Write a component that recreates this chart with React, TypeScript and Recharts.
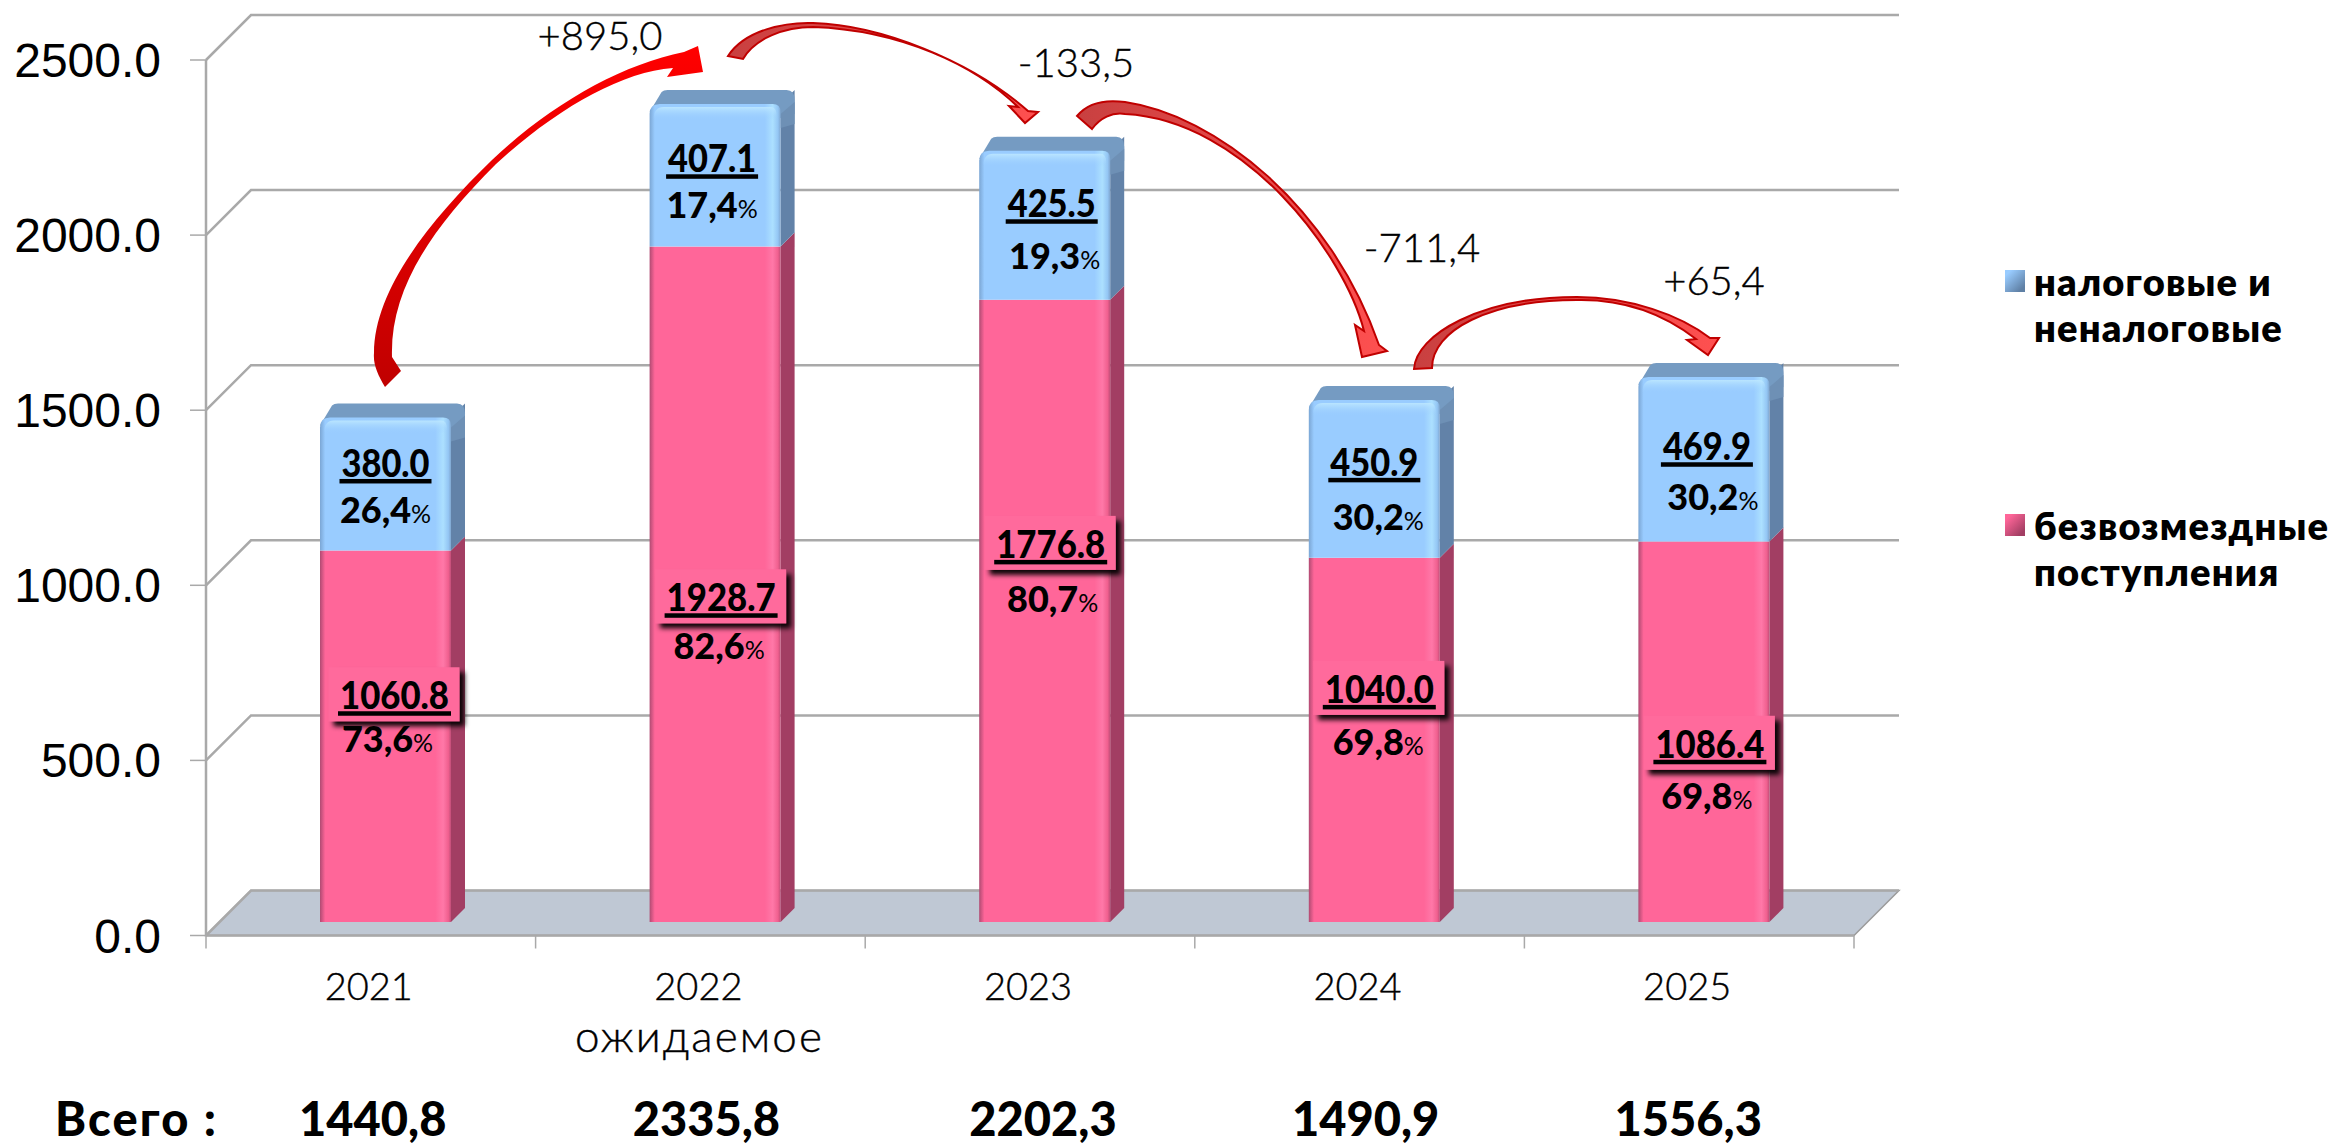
import { Bar, CartesianGrid, ComposedChart, LabelList, Legend, Line, XAxis, YAxis } from 'recharts';

const years = ['2021', '2022', '2023', '2024', '2025'];
const yearNotes = ['', 'ожидаемое', '', '', ''];
const grants = [1060.8, 1928.7, 1776.8, 1040.0, 1086.4];
const taxes = [380.0, 407.1, 425.5, 450.9, 469.9];
const grantShares = ['73,6', '82,6', '80,7', '69,8', '69,8'];
const taxShares = ['26,4', '17,4', '19,3', '30,2', '30,2'];
const totals = [1440.8, 2335.8, 2202.3, 1490.9, 1556.3];
const totalLabels = ['1440,8', '2335,8', '2202,3', '1490,9', '1556,3'];
const yTicks = [0, 500, 1000, 1500, 2000, 2500];
const GRANTS_NAME = 'безвозмездные\nпоступления';
const TAXES_NAME = 'налоговые и\nненалоговые';
const TOTAL_LABEL = 'Всего :';

const changes = [
  { text: '+895,0', x: 600, y: 50 },
  { text: '-133,5', x: 1076, y: 77 },
  { text: '-711,4', x: 1422, y: 262 },
  { text: '+65,4', x: 1714, y: 295 },
];

const tableData = years.map((year, i) => ({
  year,
  grants: grants[i],
  taxes: taxes[i],
  total: totals[i],
}));

// layout of the picture, in px
const WIDTH = 2328;
const HEIGHT = 1147;
const PLOT = { left: 206, right: 1854, top: 60, bottom: 935.5 };
const WALL = 45;
const BAR_SHIFT = 15;
const BAR_DEPTH = 14;
const BAR_LIFT = 13.5;
const PX_PER_UNIT = (PLOT.bottom - PLOT.top) / 2500;
const liftUnits = BAR_LIFT / PX_PER_UNIT;

const THIN = '"Lato", "Open Sans", sans-serif';
const BOLD = '"Lato", "Open Sans", sans-serif';

// [value dx, value dy, share dx, share dy] from the middle of each segment
const taxLabelPos = [
  [0, -20, 0, 26],
  [-3, -16, -3, 30],
  [7, -21, 10, 31],
  [0, -16, 4, 38],
  [3, -12, 9, 38],
];
const grantLabelPos = [
  [9, -40, 2, 3],
  [6, 14, 4, 62],
  [6, -66, 8, -12],
  [5, -50, 4, 2],
  [6, 13, 3, 64],
];
const totalDx = [2, 6, 13, 6, -1];

// change arrows between the bars, hand placed like the shapes in the original slide
const arrows = [
  {
    fill: 'url(#arrowStrong)',
    stroke: 'none',
    d: 'M385 387 C378 375 373 365 374 353 C374 290 430 220 492 160 C550 105 620 65 684 52 L698 46 L703 72 L667 77 L673 68 C620 72 555 110 496 164 C430 230 390 290 392 357 L401 371 Z',
  },
  {
    fill: 'url(#arrowSoft)',
    stroke: '#c00000',
    d: 'M728 56 C745 30 785 22 813 23 C880 25 970 60 1028 111 L1038 112 L1025 123 L1009 106 L1018 107 C975 65 900 30 813 27 C785 27 755 38 743 59 Z',
  },
  {
    fill: 'url(#arrowSoft)',
    stroke: '#c00000',
    d: 'M1077 116 C1090 100 1110 100 1125 102 C1215 115 1330 205 1379 345 L1387 351 L1362 357 L1355 325 L1364 331 C1345 255 1245 120 1125 114 C1112 112 1100 118 1092 129 Z',
  },
  {
    fill: 'url(#arrowSoft)',
    stroke: '#c00000',
    d: 'M1414 369 C1416 335 1480 297 1577 297 C1630 297 1680 315 1710 338 L1719 338 L1708 355 L1687 340 L1696 339 C1665 315 1625 299 1577 300 C1490 300 1432 330 1432 368 Z',
  },
];

function GridLine(props: any) {
  const { x1, y1, x2 } = props;
  const isFloor = y1 > PLOT.bottom - 5;
  return (
    <g>
      {isFloor && (
        <path
          d={`M${x1} ${y1} L${x2} ${y1} L${x2 + WALL} ${y1 - WALL} L${x1 + WALL} ${y1 - WALL} Z`}
          fill="#bfc8d4"
          stroke="#9a9a9a"
          strokeWidth={1.5}
        />
      )}
      <path
        d={`M${x1} ${y1} L${x1 + WALL} ${y1 - WALL} L${x2 + WALL} ${y1 - WALL}`}
        fill="none"
        stroke="#a9a9a9"
        strokeWidth={2.5}
      />
    </g>
  );
}

function Bar3D(props: any) {
  const { y, width, height, kind } = props;
  const x = props.x + BAR_SHIFT;
  const w = width;
  const r = x + w;
  const isTop = kind === 'taxes';
  const side = isTop ? '#6282a8' : '#a23e63';
  return (
    <g>
      <path
        d={`M${r} ${y + height} L${r + BAR_DEPTH} ${y + height - BAR_DEPTH} L${r + BAR_DEPTH} ${y - BAR_DEPTH} L${r} ${y} Z`}
        fill={side}
      />
      {isTop && (
        <>
          <path
            d={`M${x} ${y + 8} L${x + 12} ${y - BAR_DEPTH + 2} Q${x + 14} ${y - BAR_DEPTH} ${x + 18} ${y - BAR_DEPTH} L${r + 6} ${y - BAR_DEPTH} Q${r + BAR_DEPTH} ${y - BAR_DEPTH} ${r + BAR_DEPTH} ${y - 4} L${r + BAR_DEPTH} ${y + 10} L${r} ${y + 14} Z`}
            fill="#759bc2"
          />
          <path
            d={`M${r} ${y + 10} L${r + BAR_DEPTH} ${y - 2} L${r + BAR_DEPTH} ${y + 20} L${r} ${y + 24} Z`}
            fill="#6e90b5"
          />
        </>
      )}
      {isTop ? (
        <path
          d={`M${x} ${y + height} L${x} ${y + 10} Q${x} ${y} ${x + 10} ${y} L${r - 8} ${y} Q${r} ${y} ${r} ${y + 8} L${r} ${y + height} Z`}
          fill="url(#taxFace)"
        />
      ) : (
        <rect x={x} y={y} width={w} height={height} fill="url(#grantFace)" />
      )}
      {isTop && (
        <path
          d={`M${x + 4} ${y + 16} Q${x + 4} ${y + 3} ${x + 14} ${y + 3} L${r - 10} ${y + 3} Q${r - 4} ${y + 3} ${r - 4} ${y + 12} L${r - 4} ${y + 16} Z`}
          fill="url(#taxBevel)"
        />
      )}
    </g>
  );
}

function makeSegmentLabel(positions: number[][], shares: string[], boxed: boolean) {
  return function SegmentLabel(props: any) {
    const { x, y, width, height, value, index } = props;
    const [dx, dy, shareDx, shareDy] = positions[index];
    const cx = x + width / 2 + BAR_SHIFT;
    const cy = y + height / 2;
    const text = Number(value).toFixed(1);
    const lineW = text.length > 5 ? 113 : 92;
    return (
      <g fontFamily={BOLD} fontWeight={900} fill="#000">
        {boxed && (
          <rect
            x={cx + dx - 66}
            y={cy + dy - 29}
            width={131}
            height={54}
            fill="#ff6a9c"
            filter="url(#boxShadow)"
          />
        )}
        <text x={cx + dx} y={cy + dy + 13} textAnchor="middle" fontSize={37} textLength={lineW - 4} lengthAdjust="spacingAndGlyphs">
          {text}
        </text>
        <rect x={cx + dx - lineW / 2} y={cy + dy + 15} width={lineW} height={4.5} fill="#000" />
        <text x={cx + shareDx} y={cy + shareDy + 13} textAnchor="middle" fontSize={36}>
          {shares[index]}
          <tspan fontSize={25} fontWeight={400}>%</tspan>
        </text>
      </g>
    );
  };
}

function YearTick(props: any) {
  const { x, y, index } = props;
  const half = (PLOT.right - PLOT.left) / years.length / 2;
  const thin = { fontFamily: THIN, fontWeight: 300, fill: '#000', stroke: '#000', strokeWidth: 0.4 };
  return (
    <g>
      <line x1={x - half} x2={x - half} y1={y} y2={y + 13} stroke="#a9a9a9" strokeWidth={1.5} />
      {index === years.length - 1 && (
        <line x1={x + half} x2={x + half} y1={y} y2={y + 13} stroke="#a9a9a9" strokeWidth={1.5} />
      )}
      <text x={x - 2} y={1000} textAnchor="middle" fontSize={38} {...thin}>
        {years[index]}
      </text>
      {yearNotes[index] && (
        <text x={x - 2} y={1052} textAnchor="middle" fontSize={44} textLength={247} {...thin}>
          {yearNotes[index]}
        </text>
      )}
      <text x={x + totalDx[index]} y={1136} textAnchor="middle" fontFamily={BOLD} fontWeight={900} fontSize={47} fill="#000">
        {totalLabels[index]}
      </text>
      {index === 0 && (
        <text x={55} y={1136} fontFamily={BOLD} fontWeight={900} fontSize={47} textLength={161} fill="#000">
          {TOTAL_LABEL}
        </text>
      )}
    </g>
  );
}

function LegendBlock({ payload }: any) {
  const items = (payload || []).filter((item: any) => item.type !== 'none').reverse();
  return (
    <div style={{ fontFamily: BOLD, fontWeight: 800, fontSize: 38, letterSpacing: 1.2, lineHeight: '46px', color: '#000' }}>
      {items.map((item: any, i: number) => (
        <div key={item.value} style={{ position: 'relative', paddingLeft: 29, marginBottom: i === 0 ? 152 : 0, whiteSpace: 'nowrap' }}>
          <span
            style={{
              position: 'absolute',
              left: 0,
              top: 12,
              width: 20,
              height: 22,
              background: `linear-gradient(135deg, ${item.color} 15%, ${i === 0 ? '#5f80a5' : '#a23e63'} 85%)`,
            }}
          />
          {String(item.value).split('\n').map((line) => (
            <div key={line}>{line}</div>
          ))}
        </div>
      ))}
    </div>
  );
}

export default function App() {
  return (
    <div style={{ position: 'absolute', left: 0, top: 0, width: WIDTH, height: HEIGHT, background: '#fff', overflow: 'hidden' }}>
      <ComposedChart
        width={WIDTH}
        height={HEIGHT}
        data={tableData}
        barSize={131}
        margin={{ top: PLOT.top, right: WIDTH - PLOT.right, bottom: 0, left: 0 }}
      >
        <defs>
          <linearGradient id="grantFace" x1="0" x2="1" y1="0" y2="0">
            <stop offset="0" stopColor="#b04a72" />
            <stop offset="0.04" stopColor="#ff6699" />
            <stop offset="0.88" stopColor="#ff6699" />
            <stop offset="0.94" stopColor="#ff78a8" />
            <stop offset="0.98" stopColor="#f0608f" />
            <stop offset="1" stopColor="#c04e78" />
          </linearGradient>
          <linearGradient id="taxFace" x1="0" x2="1" y1="0" y2="0">
            <stop offset="0" stopColor="#7ba6d4" />
            <stop offset="0.04" stopColor="#99ccff" />
            <stop offset="0.88" stopColor="#99ccff" />
            <stop offset="0.94" stopColor="#ace0ff" />
            <stop offset="0.98" stopColor="#94c6f4" />
            <stop offset="1" stopColor="#7fa6cf" />
          </linearGradient>
          <linearGradient id="taxBevel" x1="0" x2="0" y1="0" y2="1">
            <stop offset="0" stopColor="#c0eaff" stopOpacity={0.85} />
            <stop offset="1" stopColor="#99ccff" stopOpacity={0} />
          </linearGradient>
          <linearGradient id="arrowStrong" x1="0" x2="0" y1="1" y2="0">
            <stop offset="0" stopColor="#c00000" />
            <stop offset="1" stopColor="#ff0000" />
          </linearGradient>
          <linearGradient id="arrowSoft" x1="0" x2="1" y1="0" y2="0">
            <stop offset="0" stopColor="#c84040" />
            <stop offset="1" stopColor="#ff5050" />
          </linearGradient>
          <filter id="boxShadow" x="-20%" y="-20%" width="150%" height="150%">
            <feDropShadow dx={5} dy={5} stdDeviation={2.5} floodColor="#000" floodOpacity={0.95} />
          </filter>
        </defs>
        <CartesianGrid yAxisId="axis" horizontal={GridLine} vertical={false} />
        <XAxis
          dataKey="year"
          interval={0}
          height={HEIGHT - PLOT.bottom}
          tickLine={false}
          tickSize={0}
          tickMargin={0}
          axisLine={{ stroke: '#a9a9a9', strokeWidth: 2.5 }}
          tick={YearTick}
        />
        <YAxis
          yAxisId="axis"
          width={PLOT.left}
          domain={[0, 2500]}
          ticks={yTicks}
          interval={0}
          tickFormatter={(v: number) => v.toFixed(1)}
          tickSize={16}
          tickMargin={29}
          tickLine={{ stroke: '#a9a9a9', strokeWidth: 1.5 }}
          axisLine={{ stroke: '#a9a9a9', strokeWidth: 2.5 }}
          tick={{ fontFamily: '"Liberation Sans", Arial, sans-serif', fontSize: 48, fill: '#000', stroke: 'none' }}
        />
        <YAxis
          yAxisId="bars"
          hide
          allowDataOverflow
          domain={[-liftUnits, 2500 - liftUnits]}
        />
        {/* keeps the visible value axis bound to the data, it draws nothing */}
        <Line
          yAxisId="axis"
          dataKey="total"
          stroke="none"
          dot={false}
          activeDot={false}
          legendType="none"
          isAnimationActive={false}
        />
        <Bar
          yAxisId="bars"
          dataKey="grants"
          name={GRANTS_NAME}
          stackId="budget"
          fill="#ff6699"
          isAnimationActive={false}
          shape={(p: any) => <Bar3D {...p} kind="grants" />}
        >
          <LabelList dataKey="grants" content={makeSegmentLabel(grantLabelPos, grantShares, true)} />
        </Bar>
        <Bar
          yAxisId="bars"
          dataKey="taxes"
          name={TAXES_NAME}
          stackId="budget"
          fill="#99ccff"
          isAnimationActive={false}
          shape={(p: any) => <Bar3D {...p} kind="taxes" />}
        >
          <LabelList dataKey="taxes" content={makeSegmentLabel(taxLabelPos, taxShares, false)} />
        </Bar>
        <Legend
          layout="vertical"
          align="center"
          verticalAlign="middle"
          width={320}
          wrapperStyle={{ left: 2005, top: 258, width: 320, margin: 0 }}
          content={LegendBlock}
        />
        <g>
          {arrows.map((a, i) => (
            <path key={i} d={a.d} fill={a.fill} stroke={a.stroke} strokeWidth={2} />
          ))}
          {changes.map((c) => (
            <text key={c.text} x={c.x} y={c.y} textAnchor="middle" fontFamily={THIN} fontWeight={300} fontSize={40} fill="#000" stroke="#000" strokeWidth={0.4}>
              {c.text}
            </text>
          ))}
        </g>
      </ComposedChart>
    </div>
  );
}
